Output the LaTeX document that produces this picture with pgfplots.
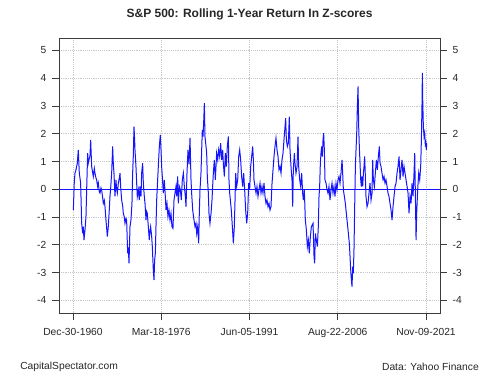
\documentclass[border=0pt]{standalone}
\usepackage{pgfplots}
\pgfplotsset{compat=1.18}
\usepackage{pgfplotstable}
\usepackage{fontspec}
\setmainfont{Liberation Sans}
\pgfplotstableread{
x y
1961.05 -0.75
1961.22 0.28
1961.34 0.58
1961.51 0.70
1961.62 0.82
1961.74 0.94
1961.91 1.42
1962.08 0.58
1962.20 0.40
1962.31 0.22
1962.49 -1.23
1962.66 -1.59
1962.77 -1.35
1962.89 -1.83
1963.06 -1.47
1963.23 -0.99
1963.35 -0.02
1963.52 1.30
1963.63 0.94
1963.75 1.06
1963.92 1.20
1964.04 1.78
1964.21 0.82
1964.38 0.60
1964.50 0.46
1964.67 0.75
1964.78 0.58
1964.96 0.40
1965.07 0.34
1965.24 0.10
1965.36 0.22
1965.53 -0.10
1965.65 -0.14
1965.82 0.05
1965.93 -0.02
1966.11 -0.30
1966.22 -0.51
1966.39 -0.40
1966.51 -0.63
1966.68 -1.11
1966.80 -1.40
1966.91 -1.71
1967.08 -1.35
1967.26 -0.70
1967.37 -0.26
1967.54 0.20
1967.66 0.58
1967.83 1.54
1967.95 0.90
1968.06 0.58
1968.23 -0.26
1968.40 0.34
1968.52 0.00
1968.64 -0.14
1968.81 0.22
1968.98 0.40
1969.10 0.58
1969.21 0.10
1969.38 -0.39
1969.56 -0.60
1969.67 -0.87
1969.84 -1.00
1969.96 -1.23
1970.13 -1.05
1970.24 -1.11
1970.42 -2.31
1970.53 -2.10
1970.65 -2.67
1970.82 -1.35
1970.99 -1.11
1971.16 -0.51
1971.28 0.58
1971.39 1.20
1971.51 2.26
1971.62 1.80
1971.68 1.42
1971.85 0.82
1971.97 0.22
1972.08 -0.26
1972.26 -0.02
1972.43 -0.39
1972.54 0.10
1972.72 -0.26
1972.83 0.58
1973.00 0.94
1973.12 0.22
1973.29 -0.26
1973.41 -0.51
1973.58 -1.11
1973.69 -0.80
1973.81 -0.87
1973.98 -1.35
1974.15 -1.83
1974.27 -1.50
1974.38 -1.35
1974.56 -1.71
1974.67 -2.07
1974.84 -2.91
1974.96 -3.27
1975.07 -2.55
1975.19 -2.31
1975.30 -1.35
1975.42 -0.39
1975.59 0.34
1975.76 1.06
1975.88 1.54
1976.05 1.96
1976.17 1.42
1976.28 0.82
1976.39 0.46
1976.57 -0.14
1976.74 0.34
1976.91 -0.26
1977.03 -0.75
1977.20 -0.51
1977.37 -0.99
1977.54 -0.75
1977.72 -1.11
1977.89 -0.87
1978.06 -1.35
1978.23 -1.41
1978.41 -0.39
1978.58 -0.14
1978.75 0.10
1978.87 -0.26
1979.04 0.46
1979.15 -0.51
1979.33 0.10
1979.50 -0.02
1979.67 -0.39
1979.84 0.34
1980.02 0.58
1980.19 0.10
1980.36 -0.26
1980.48 -0.63
1980.65 0.58
1980.82 1.42
1981.00 0.90
1981.17 1.85
1981.34 0.34
1981.45 -0.14
1981.63 -0.75
1981.86 -1.11
1982.03 -1.35
1982.20 -1.23
1982.32 -1.59
1982.49 -1.35
1982.66 -1.95
1982.77 -0.87
1982.89 -0.02
1983.06 0.58
1983.18 1.42
1983.29 2.14
1983.41 1.90
1983.52 2.38
1983.64 3.10
1983.75 1.90
1983.87 1.66
1984.04 1.30
1984.15 0.46
1984.33 -0.14
1984.44 -0.87
1984.61 -1.23
1984.79 -0.87
1984.96 -0.39
1985.07 0.10
1985.19 0.58
1985.36 1.06
1985.53 0.34
1985.65 0.82
1985.76 1.30
1985.94 1.06
1986.11 1.42
1986.28 1.18
1986.45 1.66
1986.63 1.06
1986.80 1.42
1986.91 0.94
1987.09 0.46
1987.26 1.30
1987.43 0.82
1987.60 1.54
1987.78 1.90
1987.89 0.34
1988.01 -0.14
1988.12 -0.39
1988.29 -0.75
1988.47 -1.35
1988.64 -1.95
1988.81 -1.35
1988.93 -0.39
1989.04 0.58
1989.21 0.10
1989.39 0.34
1989.56 1.18
1989.73 1.42
1989.90 1.06
1990.07 0.46
1990.25 0.10
1990.42 0.58
1990.59 -0.02
1990.76 -0.75
1990.94 -1.23
1991.11 -0.87
1991.28 0.22
1991.45 -0.02
1991.63 0.82
1991.80 1.18
1991.97 1.54
1992.09 1.06
1992.20 0.34
1992.37 0.10
1992.55 -0.14
1992.72 0.10
1992.89 -0.26
1993.06 -0.02
1993.24 0.22
1993.41 -0.14
1993.58 0.10
1993.75 -0.14
1993.93 0.22
1994.10 -0.26
1994.27 -0.51
1994.44 -0.39
1994.62 -0.63
1994.79 -0.51
1994.96 -0.75
1995.13 -0.63
1995.31 0.22
1995.48 0.70
1995.65 1.18
1995.82 1.54
1995.99 1.84
1996.17 1.42
1996.34 1.18
1996.51 0.70
1996.69 0.82
1996.86 0.58
1997.03 1.06
1997.20 1.30
1997.37 1.78
1997.55 2.26
1997.66 2.56
1997.78 1.78
1997.95 1.54
1998.12 1.66
1998.29 2.62
1998.41 1.42
1998.58 0.82
1998.75 0.34
1998.87 -0.63
1998.98 0.70
1999.16 1.30
1999.27 0.94
1999.44 0.58
1999.62 0.82
1999.79 1.90
1999.90 0.82
2000.08 0.34
2000.25 0.10
2000.42 0.58
2000.59 -0.14
2000.71 -0.39
2000.88 -0.02
2001.05 -1.11
2001.23 -1.47
2001.40 -2.07
2001.57 -1.83
2001.74 -2.31
2001.92 -1.71
2002.09 -1.35
2002.38 -1.23
2002.55 -2.43
2002.66 -2.67
2002.78 -1.59
2002.95 -1.83
2003.12 -2.07
2003.29 -1.35
2003.41 -0.26
2003.52 0.10
2003.64 0.94
2003.75 1.30
2003.87 1.54
2003.98 1.18
2004.10 1.78
2004.21 2.02
2004.33 1.42
2004.44 0.34
2004.62 0.22
2004.79 -0.02
2004.96 -0.14
2005.13 0.10
2005.31 -0.39
2005.48 -0.02
2005.65 0.22
2005.82 -0.14
2005.99 0.10
2006.17 -0.26
2006.34 0.22
2006.51 -0.02
2006.69 0.34
2006.86 0.46
2007.03 0.22
2007.20 0.58
2007.38 1.06
2007.49 0.58
2007.61 -0.02
2007.78 -0.26
2007.95 -0.51
2008.12 -0.87
2008.30 -1.23
2008.47 -1.59
2008.64 -1.95
2008.76 -2.43
2008.87 -2.91
2008.99 -3.27
2009.10 -3.51
2009.22 -2.79
2009.33 -3.03
2009.45 -2.07
2009.56 -0.63
2009.68 0.82
2009.79 1.42
2009.91 2.02
2010.02 2.98
2010.14 3.71
2010.25 2.26
2010.36 1.54
2010.48 0.94
2010.60 0.34
2010.71 0.10
2010.83 0.46
2010.94 0.10
2011.06 0.58
2011.17 0.82
2011.28 1.18
2011.40 0.46
2011.51 -0.26
2011.69 -0.63
2011.86 -0.51
2012.03 -0.14
2012.20 0.22
2012.38 -0.39
2012.55 -0.14
2012.66 1.06
2012.78 0.34
2012.95 0.10
2013.12 0.58
2013.30 1.06
2013.47 0.70
2013.64 1.18
2013.81 1.54
2013.93 0.94
2014.10 0.82
2014.27 0.58
2014.45 0.34
2014.62 0.46
2014.79 0.22
2014.96 0.34
2015.14 0.10
2015.31 -0.14
2015.48 -0.26
2015.65 -0.51
2015.83 -0.75
2016.00 -1.11
2016.17 -0.63
2016.34 -0.26
2016.52 0.10
2016.69 0.22
2016.86 0.58
2017.03 0.82
2017.21 1.18
2017.38 0.34
2017.55 0.70
2017.72 1.06
2017.90 0.46
2018.07 0.82
2018.24 0.58
2018.41 0.34
2018.59 0.10
2018.76 -0.14
2018.93 -0.87
2019.10 -0.26
2019.28 -0.51
2019.45 0.22
2019.62 -0.26
2019.79 0.58
2019.91 1.30
2020.02 -0.14
2020.14 -1.83
2020.25 -0.87
2020.42 -0.02
2020.60 0.58
2020.77 0.34
2020.94 0.82
2021.06 1.78
2021.17 3.10
2021.23 4.19
2021.29 3.23
2021.40 2.26
2021.52 1.90
2021.63 2.02
2021.75 1.54
2021.80 1.78
2021.92 1.42
2021.98 1.66
}\zdata
\definecolor{framecol}{RGB}{60,60,60}
\definecolor{gridcol}{RGB}{200,200,200}
\definecolor{zblue}{RGB}{20,20,255}
\begin{document}
\begin{tikzpicture}
\path[use as bounding box] (-44.25pt,-46.5pt) rectangle (330.75pt,234.75pt);
\pgfplotsset{
  common/.style={
    at={(0,0)}, anchor=south west,
    scale only axis, width=285.75pt, height=206.25pt,
    xmin=1958.58, xmax=2024.27, ymin=-4.46, ymax=5.45,
    ytick={-4,-3,-2,-1,0,1,2,3,4,5},
    tick align=outside, major tick length=5pt,
    tick style={framecol, line width=0.6pt},
    ticklabel style={font=\fontsize{7.7}{9}\selectfont, text=black!85},
    /pgf/number format/assume math mode=true,
  }
}
\begin{axis}[common,
  axis line style={framecol, line width=0.75pt},
  xtick={1960.99,1976.21,1991.43,2006.64,2021.86},
  xticklabels={Dec-30-1960,Mar-18-1976,Jun-05-1991,Aug-22-2006,Nov-09-2021},
  xtick pos=bottom, ytick pos=left,
  grid=major, major grid style={densely dotted, gridcol, line width=0.6pt},
  yticklabel style={xshift=-1pt},
  xticklabel style={yshift=-3pt},
]
\addplot[draw=zblue, line width=0.8pt] coordinates {(1958.58,0) (2024.27,0)};
\addplot[draw=zblue, line width=0.75pt] table[x=x,y=y] {\zdata};
\end{axis}
\begin{axis}[common,
  axis line style={draw=none},
  xtick=\empty,
  ytick pos=right,
  yticklabel pos=right,
  yticklabel style={xshift=1pt},
]
\addplot[draw=none] coordinates {(1960,1)};
\end{axis}
\node[font=\bfseries\fontsize{9}{11}\selectfont, text=black!85] at (142.9pt,223.9pt) {S\&P 500: Rolling 1-Year Return In Z-scores};
\node[font=\fontsize{7.7}{9}\selectfont, anchor=west, inner sep=0pt, text=black!85] at (-29.25pt,-40.5pt) {CapitalSpectator.com};
\node[font=\fontsize{7.7}{9}\selectfont, anchor=east, inner sep=0pt, text=black!85] at (315pt,-40.5pt) {Data: Yahoo Finance};
\end{tikzpicture}
\end{document}
